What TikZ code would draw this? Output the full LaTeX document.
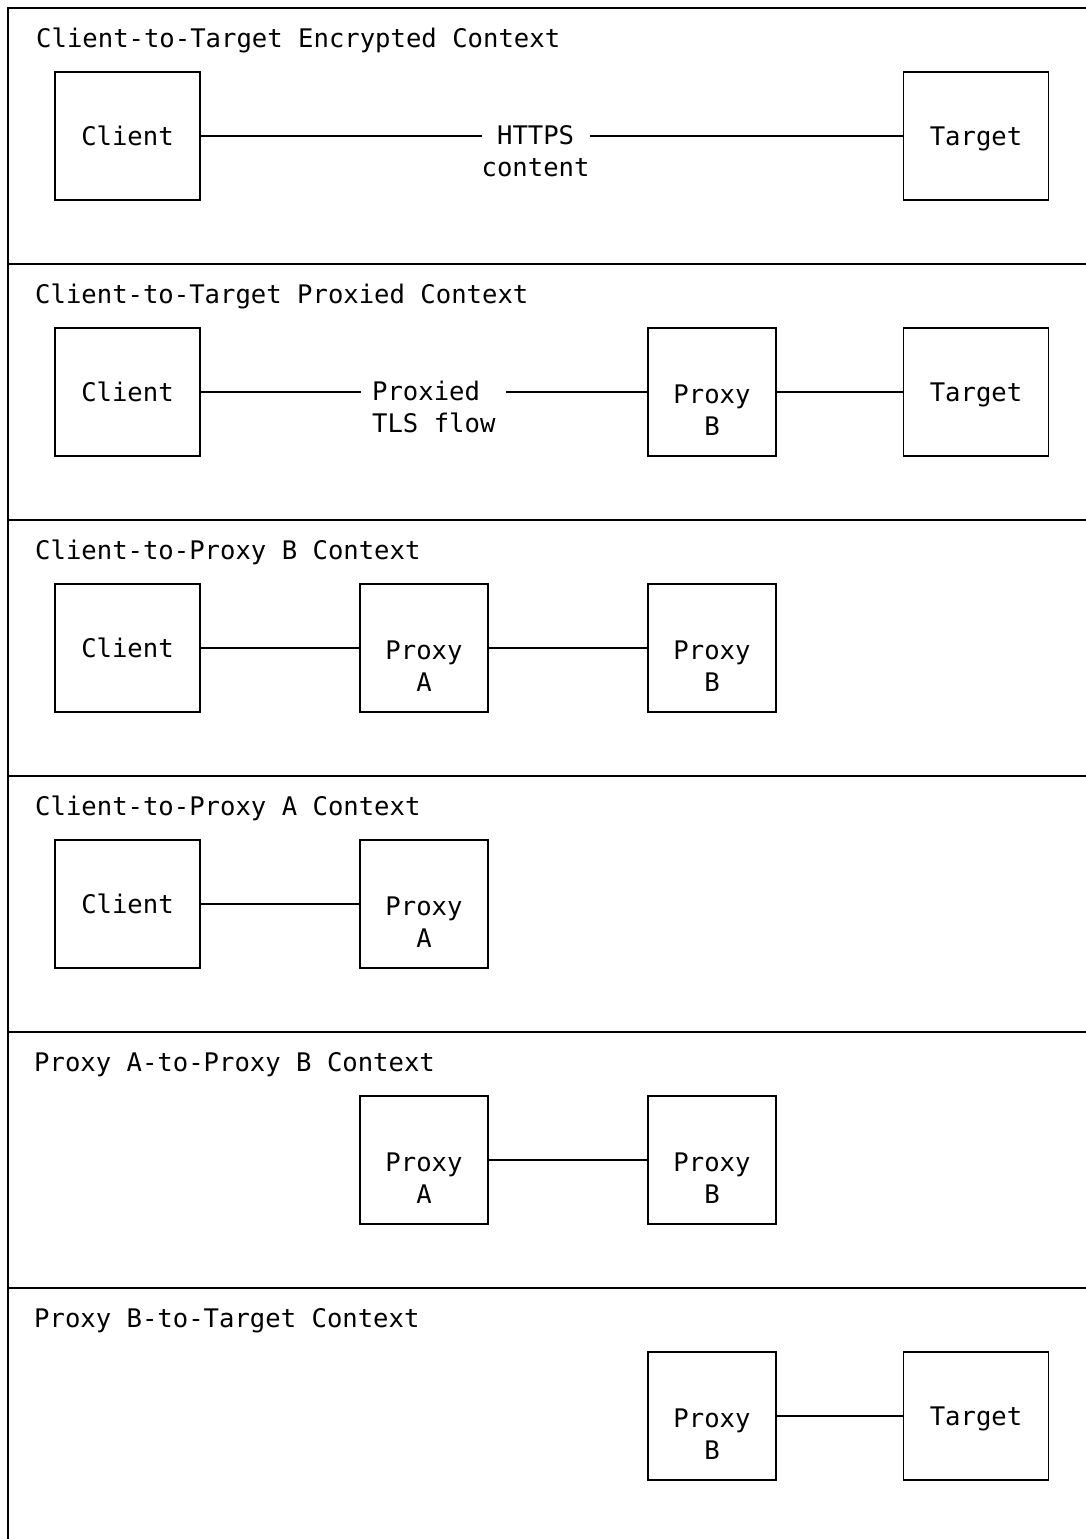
\documentclass[tikz,border=0pt]{standalone}
\usepackage{fontspec}
\setmonofont{DejaVu Sans Mono}
\usepackage{tikz}
\usetikzlibrary{positioning}

\begin{document}
\begin{tikzpicture}[x=1pt,y=-1pt,font=\ttfamily\fontsize{25.6}{32}\selectfont]
\tikzstyle{frame}=[line width=1.8pt]
\tikzstyle{hostbox}=[rectangle,draw,line width=1.8pt,minimum width=145pt,minimum height=128pt,inner sep=0pt,text depth=0pt,align=center]
\tikzstyle{proxybox}=[hostbox,minimum width=128pt]
\tikzstyle{title}=[anchor=base west,inner sep=0pt]
\tikzstyle{wire}=[line width=1.4pt]
\tikzstyle{flowlabel}=[fill=white,inner xsep=0pt,inner ysep=2pt,yshift=3pt]
\useasboundingbox (0,0) rectangle (1086,1539);
\draw[frame] (8,1539) -- (8,8) -- (1086,8);
\foreach \y in {264,520,776,1032,1288}
  \draw[frame] (8,\y) -- (1086,\y);

\node[title] at(36, 47) (t1) {Client-to-Target Encrypted Context};
\node[hostbox] at(127.5, 136) (client1) {Client};
\node[hostbox] at(976, 136) (target1) {Target};
\draw[wire] (client1) -- (target1) node[flowlabel,align=center,pos=0.477] {\strut\\HTTPS\\content};

\node[title] at(35, 303) (t2) {Client-to-Target Proxied Context};
\node[hostbox] at(127.5, 392) (client2) {Client};
\node[proxybox] at(712, 392) (proxyb2) {\strut\\Proxy\\B};
\node[hostbox] at(976, 392) (target2) {Target};
\draw[wire] (client2) -- (proxyb2) node[flowlabel,align=left,inner xsep=11pt,pos=0.522] {\strut\\Proxied\\TLS flow};
\draw[wire] (proxyb2) -- (target2);

\node[title] at(35, 559) (t3) {Client-to-Proxy B Context};
\node[hostbox] at(127.5, 648) (client3) {Client};
\node[proxybox] at(424, 648) (proxya3) {\strut\\Proxy\\A};
\node[proxybox] at(712, 648) (proxyb3) {\strut\\Proxy\\B};
\draw[wire] (client3) -- (proxya3);
\draw[wire] (proxya3) -- (proxyb3);

\node[title] at(35, 815) (t4) {Client-to-Proxy A Context};
\node[hostbox] at(127.5, 904) (client4) {Client};
\node[proxybox] at(424, 904) (proxya4) {\strut\\Proxy\\A};
\draw[wire] (client4) -- (proxya4);

\node[title] at(34, 1071) (t5) {Proxy A-to-Proxy B Context};
\node[proxybox] at(424, 1160) (proxya5) {\strut\\Proxy\\A};
\node[proxybox] at(712, 1160) (proxyb5) {\strut\\Proxy\\B};
\draw[wire] (proxya5) -- (proxyb5);

\node[title] at(34, 1327) (t6) {Proxy B-to-Target Context};
\node[proxybox] at(712, 1416) (proxyb6) {\strut\\Proxy\\B};
\node[hostbox] at(976, 1416) (target6) {Target};
\draw[wire] (proxyb6) -- (target6);
\end{tikzpicture}
\end{document}
